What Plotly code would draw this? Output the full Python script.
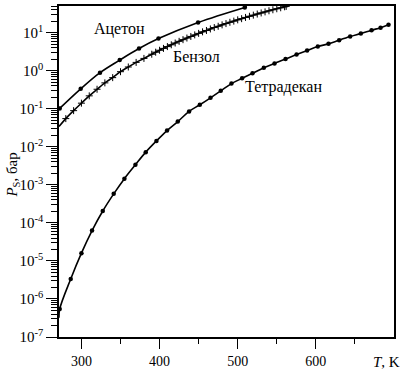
import plotly.graph_objects as go

# ---------------- data ----------------
acetone_T = [272.2, 299.1, 323.8, 349.0, 373.7, 398.6, 449.3, 509.1]
acetone_P = [0.102, 0.333, 0.887, 1.90, 3.82, 6.97, 18.5, 46.0]

benzene_T = [280, 290, 300, 310, 320, 330, 340, 350, 360, 370, 380,
             390, 395, 400, 405, 410, 415, 420, 425, 430, 435, 440, 445,
             450, 455, 460, 465, 470, 475, 480, 485, 490, 495, 500, 505,
             510, 515, 520, 525, 530, 535, 540, 545, 550, 555, 560, 562]
benzene_P = [0.055, 0.089, 0.140, 0.218, 0.325, 0.478, 0.656, 0.94, 1.25, 1.65, 2.10,
             2.71, 3.06, 3.44, 3.85, 4.30, 4.79, 5.33, 5.91, 6.53, 7.21, 7.94, 8.72,
             9.56, 10.5, 11.4, 12.5, 13.6, 14.7, 16.0, 17.3, 18.7, 20.1, 21.7, 23.3,
             25.1, 26.9, 28.8, 30.8, 32.9, 35.1, 37.5, 39.9, 42.4, 45.0, 47.8, 48.9]
benzene_curve_start = (271.3, 0.034)

tetradecane_T = [272.2, 286.3, 300.0, 313.6, 327.3, 341.3, 355.0, 369.1, 382.3, 396.0,
                 409.6, 423.3, 437.8, 451.5, 465.2, 478.3, 492.0, 505.6, 518.9, 533.4,
                 547.1, 561.2, 575.3, 588.8, 602.5, 616.2, 629.8, 643.9, 657.6, 671.3,
                 682.8, 693.0]
tetradecane_logP = [-6.266, -5.475, -4.796, -4.204, -3.689, -3.238, -2.838, -2.473, -2.141, -1.846,
                    -1.574, -1.339, -1.070, -0.896, -0.713, -0.530, -0.339, -0.201, -0.070, 0.078,
                    0.191, 0.305, 0.426, 0.530, 0.634, 0.705, 0.802, 0.896, 0.974, 1.063,
                    1.131, 1.209]
tetradecane_P = [10 ** v for v in tetradecane_logP]
tetradecane_curve_start = (271.3, 3.2e-7)

y_tick_exps = [-7, -6, -5, -4, -3, -2, -1, 0, 1]
x_ticks = [300, 400, 500, 600]
x_minor = [350, 450, 550, 650]

labels = ["Ацетон", "Бензол", "Тетрадекан"]
# label centres: (T, log10 P)
label_pos = [(349, 1.097), (447, 0.366), (558, -0.418)]

# ---------------- figure ----------------
FONT = "'Times New Roman', 'Liberation Serif', Times, serif"
fig = go.Figure()
LW = 1.6

fig.add_trace(go.Scatter(x=acetone_T, y=acetone_P, mode="lines+markers",
                         line=dict(color="black", width=LW, shape="spline"),
                         marker=dict(symbol="circle", size=4.5, color="black"),
                         showlegend=False))
fig.add_trace(go.Scatter(x=[benzene_curve_start[0]] + benzene_T,
                         y=[benzene_curve_start[1]] + benzene_P, mode="lines",
                         line=dict(color="black", width=LW, shape="spline"),
                         showlegend=False))
fig.add_trace(go.Scatter(x=benzene_T, y=benzene_P, mode="markers",
                         marker=dict(symbol="cross-thin", size=5, color="black",
                                     line=dict(color="black", width=1)),
                         showlegend=False))
fig.add_trace(go.Scatter(x=[tetradecane_curve_start[0]] + tetradecane_T,
                         y=[tetradecane_curve_start[1]] + tetradecane_P, mode="lines",
                         line=dict(color="black", width=LW, shape="spline"),
                         showlegend=False))
fig.add_trace(go.Scatter(x=tetradecane_T, y=tetradecane_P, mode="markers",
                         marker=dict(symbol="circle", size=4.5, color="black"),
                         showlegend=False))

for txt, (tx, ty) in zip(labels, label_pos):
    fig.add_annotation(x=tx, y=ty, yref="y", xref="x", text=txt, showarrow=False,
                       font=dict(family=FONT, size=16, color="black"),
                       xanchor="center", yanchor="middle")

y_minor = [k * 10.0 ** e for e in range(-7, 2) for k in range(2, 10)]

fig.update_xaxes(range=[271.3, 700], tickvals=x_ticks, ticks="outside", ticklen=10,
                 tickwidth=1.3, tickcolor="black", showline=True, linecolor="black",
                 linewidth=1.5, mirror=True, showgrid=False, zeroline=False,
                 tickfont=dict(family=FONT, size=14, color="black"),
                 minor=dict(tickvals=x_minor, ticks="outside", ticklen=5,
                            tickwidth=1.3, tickcolor="black", showgrid=False))
fig.update_yaxes(type="log", range=[-7, 1.7],
                 tickvals=[10.0 ** e for e in y_tick_exps],
                 ticktext=["10<sup>%d</sup>" % e for e in y_tick_exps],
                 ticks="outside", ticklen=11, tickwidth=1.3, tickcolor="black",
                 showline=True, linecolor="black", linewidth=1.5, mirror=True,
                 showgrid=False, zeroline=False,
                 tickfont=dict(family=FONT, size=15, color="black"),
                 minor=dict(tickvals=y_minor, ticks="outside", ticklen=6,
                            tickwidth=1, tickcolor="black", showgrid=False))

fig.add_annotation(xref="paper", yref="paper", x=1.025, y=-0.075,
                   text="<i>T</i>, K", showarrow=False, xanchor="right", yanchor="middle",
                   font=dict(family=FONT, size=15, color="black"))
fig.add_annotation(xref="paper", yref="paper", x=-0.138, y=0.49,
                   text="<i>P</i><sub>S</sub>, бар", showarrow=False, textangle=-90,
                   xanchor="center", yanchor="middle",
                   font=dict(family=FONT, size=15, color="black"))

fig.update_layout(width=402, height=374,
                  margin=dict(l=59.3, r=8, t=4, b=36.7, pad=0),
                  paper_bgcolor="white", plot_bgcolor="white",
                  font=dict(family=FONT, color="black"))

fig.write_html("out.html")
